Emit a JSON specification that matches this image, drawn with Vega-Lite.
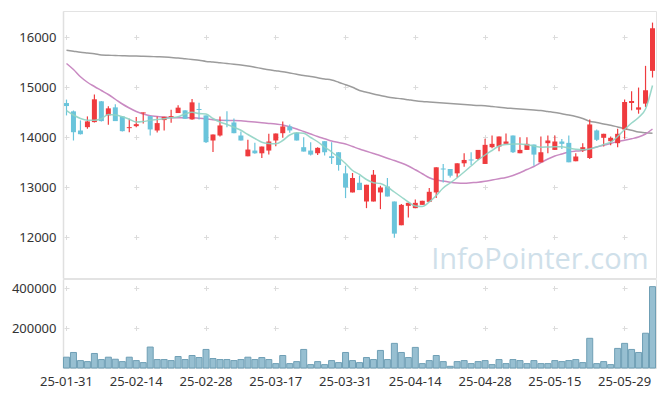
{
"$schema": "https://vega.github.io/schema/vega-lite/v6.json",
"background": "white",
"padding": {"left": 0, "top": 10, "right": 10, "bottom": 5},
"spacing": -2,
"config": {"view": {"stroke": "#e3e3e3"}, "font": "Noto Sans"},
"datasets": {"k": [
{"d":"25-01-31","o":14679,"h":14748,"l":14432,"c":14619,"v":54000,"ma5":14530,"ma20":15470,"ma60":15735},
{"d":"25-02-03","o":14513,"h":14530,"l":13930,"c":14096,"v":77600,"ma5":14440,"ma20":15350,"ma60":15715},
{"d":"25-02-04","o":14130,"h":14332,"l":14050,"c":14056,"v":37100,"ma5":14370,"ma20":15205,"ma60":15695},
{"d":"25-02-05","o":14197,"h":14412,"l":14165,"c":14312,"v":32000,"ma5":14335,"ma20":15095,"ma60":15680},
{"d":"25-02-06","o":14298,"h":14848,"l":14290,"c":14754,"v":72600,"ma5":14335,"ma20":15010,"ma60":15665},
{"d":"25-02-07","o":14714,"h":14720,"l":14310,"c":14318,"v":42200,"ma5":14365,"ma20":14930,"ma60":15640},
{"d":"25-02-10","o":14432,"h":14613,"l":14246,"c":14573,"v":54000,"ma5":14450,"ma20":14850,"ma60":15635},
{"d":"25-02-11","o":14593,"h":14653,"l":14318,"c":14318,"v":43900,"ma5":14440,"ma20":14755,"ma60":15630},
{"d":"25-02-12","o":14412,"h":14420,"l":14110,"c":14117,"v":32000,"ma5":14405,"ma20":14660,"ma60":15625},
{"d":"25-02-13","o":14177,"h":14365,"l":14096,"c":14197,"v":54000,"ma5":14355,"ma20":14580,"ma60":15620},
{"d":"25-02-14","o":14217,"h":14398,"l":14197,"c":14257,"v":37100,"ma5":14300,"ma20":14510,"ma60":15618},
{"d":"25-02-17","o":14472,"h":14492,"l":14270,"c":14492,"v":27000,"ma5":14310,"ma20":14460,"ma60":15615},
{"d":"25-02-18","o":14418,"h":14418,"l":14030,"c":14151,"v":104700,"ma5":14333,"ma20":14425,"ma60":15610},
{"d":"25-02-19","o":14130,"h":14412,"l":14090,"c":14278,"v":42200,"ma5":14350,"ma20":14410,"ma60":15605},
{"d":"25-02-20","o":14338,"h":14405,"l":14130,"c":14405,"v":42200,"ma5":14367,"ma20":14395,"ma60":15600},
{"d":"25-02-21","o":14398,"h":14546,"l":14285,"c":14418,"v":37100,"ma5":14385,"ma20":14386,"ma60":15590},
{"d":"25-02-24","o":14479,"h":14633,"l":14479,"c":14587,"v":57400,"ma5":14405,"ma20":14386,"ma60":15580},
{"d":"25-02-25","o":14533,"h":14533,"l":14365,"c":14365,"v":42200,"ma5":14460,"ma20":14386,"ma60":15565},
{"d":"25-02-26","o":14352,"h":14761,"l":14345,"c":14693,"v":62500,"ma5":14495,"ma20":14386,"ma60":15550},
{"d":"25-02-27","o":14560,"h":14687,"l":14352,"c":14540,"v":52300,"ma5":14470,"ma20":14375,"ma60":15535},
{"d":"25-02-28","o":14432,"h":14432,"l":13880,"c":13896,"v":92800,"ma5":14460,"ma20":14362,"ma60":15512},
{"d":"25-03-04","o":13930,"h":14050,"l":13700,"c":14050,"v":47300,"ma5":14370,"ma20":14345,"ma60":15500},
{"d":"25-03-05","o":14030,"h":14412,"l":14010,"c":14231,"v":42200,"ma5":14300,"ma20":14335,"ma60":15485},
{"d":"25-03-06","o":14342,"h":14513,"l":14197,"c":14322,"v":42200,"ma5":14250,"ma20":14332,"ma60":15470},
{"d":"25-03-07","o":14291,"h":14372,"l":14076,"c":14076,"v":37100,"ma5":14195,"ma20":14332,"ma60":15455},
{"d":"25-03-10","o":14030,"h":14111,"l":13930,"c":13930,"v":42200,"ma5":14135,"ma20":14325,"ma60":15440},
{"d":"25-03-11","o":13614,"h":13944,"l":13614,"c":13749,"v":54000,"ma5":14050,"ma20":14312,"ma60":15420},
{"d":"25-03-12","o":13729,"h":13883,"l":13663,"c":13674,"v":42200,"ma5":13970,"ma20":14298,"ma60":15395},
{"d":"25-03-13","o":13674,"h":13809,"l":13582,"c":13809,"v":52300,"ma5":13895,"ma20":14285,"ma60":15370},
{"d":"25-03-14","o":13729,"h":14064,"l":13648,"c":13910,"v":42200,"ma5":13870,"ma20":14272,"ma60":15345},
{"d":"25-03-17","o":13930,"h":14070,"l":13815,"c":14070,"v":21900,"ma5":13863,"ma20":14258,"ma60":15325},
{"d":"25-03-18","o":14076,"h":14312,"l":13984,"c":14211,"v":62500,"ma5":13930,"ma20":14240,"ma60":15305},
{"d":"25-03-19","o":14211,"h":14251,"l":14084,"c":14131,"v":21900,"ma5":14040,"ma20":14205,"ma60":15280},
{"d":"25-03-20","o":14084,"h":14090,"l":13930,"c":13930,"v":32000,"ma5":14085,"ma20":14160,"ma60":15255},
{"d":"25-03-21","o":13796,"h":13997,"l":13709,"c":13709,"v":92800,"ma5":14075,"ma20":14110,"ma60":15230},
{"d":"25-03-24","o":13729,"h":13896,"l":13628,"c":13648,"v":16900,"ma5":13990,"ma20":14060,"ma60":15210},
{"d":"25-03-25","o":13675,"h":13796,"l":13642,"c":13783,"v":32000,"ma5":13905,"ma20":14010,"ma60":15185},
{"d":"25-03-26","o":13916,"h":13916,"l":13628,"c":13695,"v":16900,"ma5":13800,"ma20":13965,"ma60":15160},
{"d":"25-03-27","o":13614,"h":13896,"l":13461,"c":13581,"v":37100,"ma5":13700,"ma20":13920,"ma60":15140},
{"d":"25-03-28","o":13695,"h":13700,"l":13327,"c":13441,"v":27000,"ma5":13590,"ma20":13890,"ma60":15095},
{"d":"25-03-31","o":13273,"h":13427,"l":12778,"c":12991,"v":77600,"ma5":13470,"ma20":13860,"ma60":15045},
{"d":"25-04-01","o":12891,"h":13280,"l":12891,"c":13180,"v":37100,"ma5":13330,"ma20":13810,"ma60":14995},
{"d":"25-04-02","o":13085,"h":13226,"l":12939,"c":12939,"v":27000,"ma5":13250,"ma20":13760,"ma60":14930},
{"d":"25-04-03","o":12710,"h":13045,"l":12577,"c":13045,"v":52300,"ma5":13150,"ma20":13715,"ma60":14895},
{"d":"25-04-04","o":12710,"h":13340,"l":12710,"c":13246,"v":42200,"ma5":13085,"ma20":13670,"ma60":14860},
{"d":"25-04-07","o":12891,"h":13025,"l":12557,"c":12991,"v":87800,"ma5":13070,"ma20":13625,"ma60":14830},
{"d":"25-04-08","o":13011,"h":13180,"l":12810,"c":12810,"v":42200,"ma5":13000,"ma20":13575,"ma60":14800},
{"d":"25-04-09","o":12710,"h":12710,"l":11987,"c":12067,"v":123200,"ma5":12900,"ma20":13530,"ma60":14780},
{"d":"25-04-10","o":12235,"h":12660,"l":12235,"c":12643,"v":77600,"ma5":12800,"ma20":13480,"ma60":14765},
{"d":"25-04-11","o":12623,"h":12683,"l":12388,"c":12683,"v":52300,"ma5":12700,"ma20":13420,"ma60":14745},
{"d":"25-04-14","o":12577,"h":12750,"l":12577,"c":12683,"v":103000,"ma5":12620,"ma20":13345,"ma60":14725},
{"d":"25-04-15","o":12643,"h":12724,"l":12643,"c":12724,"v":21900,"ma5":12610,"ma20":13265,"ma60":14710},
{"d":"25-04-16","o":12703,"h":12979,"l":12703,"c":12904,"v":37100,"ma5":12700,"ma20":13185,"ma60":14700},
{"d":"25-04-17","o":12891,"h":13394,"l":12778,"c":13394,"v":62500,"ma5":12830,"ma20":13140,"ma60":14690},
{"d":"25-04-18","o":13370,"h":13461,"l":13092,"c":13350,"v":32000,"ma5":12980,"ma20":13120,"ma60":14680},
{"d":"25-04-21","o":13360,"h":13360,"l":13190,"c":13226,"v":8400,"ma5":13080,"ma20":13095,"ma60":14670},
{"d":"25-04-22","o":13273,"h":13474,"l":13192,"c":13474,"v":32000,"ma5":13185,"ma20":13080,"ma60":14660},
{"d":"25-04-23","o":13474,"h":13675,"l":13407,"c":13541,"v":37100,"ma5":13300,"ma20":13075,"ma60":14650},
{"d":"25-04-24","o":13550,"h":13696,"l":13440,"c":13530,"v":21900,"ma5":13420,"ma20":13085,"ma60":14640},
{"d":"25-04-25","o":13561,"h":13742,"l":13540,"c":13742,"v":32000,"ma5":13540,"ma20":13095,"ma60":14630},
{"d":"25-04-28","o":13461,"h":13964,"l":13461,"c":13843,"v":37100,"ma5":13640,"ma20":13115,"ma60":14625},
{"d":"25-04-29","o":13796,"h":14030,"l":13776,"c":13863,"v":16900,"ma5":13730,"ma20":13140,"ma60":14610},
{"d":"25-04-30","o":13809,"h":14010,"l":13715,"c":14010,"v":42200,"ma5":13820,"ma20":13165,"ma60":14595},
{"d":"25-05-02","o":13863,"h":14070,"l":13863,"c":13910,"v":21900,"ma5":13852,"ma20":13190,"ma60":14580},
{"d":"25-05-07","o":14030,"h":14030,"l":13680,"c":13695,"v":42200,"ma5":13858,"ma20":13230,"ma60":14570},
{"d":"25-05-08","o":13675,"h":13997,"l":13675,"c":13742,"v":37100,"ma5":13862,"ma20":13285,"ma60":14560},
{"d":"25-05-09","o":13742,"h":13997,"l":13742,"c":13863,"v":21900,"ma5":13845,"ma20":13350,"ma60":14550},
{"d":"25-05-12","o":13849,"h":13849,"l":13427,"c":13648,"v":37100,"ma5":13820,"ma20":13410,"ma60":14540},
{"d":"25-05-13","o":13494,"h":14010,"l":13494,"c":13695,"v":21900,"ma5":13795,"ma20":13490,"ma60":14530},
{"d":"25-05-14","o":13876,"h":14030,"l":13675,"c":13930,"v":21900,"ma5":13800,"ma20":13560,"ma60":14510},
{"d":"25-05-15","o":13742,"h":14030,"l":13742,"c":13910,"v":37100,"ma5":13805,"ma20":13620,"ma60":14490},
{"d":"25-05-16","o":13910,"h":13960,"l":13760,"c":13863,"v":32000,"ma5":13805,"ma20":13660,"ma60":14465},
{"d":"25-05-19","o":13883,"h":14030,"l":13494,"c":13494,"v":37100,"ma5":13780,"ma20":13700,"ma60":14440},
{"d":"25-05-20","o":13514,"h":13675,"l":13514,"c":13608,"v":42200,"ma5":13755,"ma20":13718,"ma60":14410},
{"d":"25-05-21","o":13729,"h":13876,"l":13700,"c":13796,"v":27000,"ma5":13745,"ma20":13730,"ma60":14370},
{"d":"25-05-22","o":13580,"h":14352,"l":13560,"c":14251,"v":148500,"ma5":13760,"ma20":13765,"ma60":14315},
{"d":"25-05-23","o":14131,"h":14150,"l":13920,"c":13944,"v":21900,"ma5":13800,"ma20":13800,"ma60":14290},
{"d":"25-05-26","o":13984,"h":14064,"l":13809,"c":14064,"v":32000,"ma5":13850,"ma20":13835,"ma60":14260},
{"d":"25-05-27","o":13916,"h":14010,"l":13836,"c":13984,"v":16900,"ma5":13895,"ma20":13870,"ma60":14235},
{"d":"25-05-28","o":13876,"h":14165,"l":13796,"c":14064,"v":97900,"ma5":14010,"ma20":13910,"ma60":14200},
{"d":"25-05-29","o":14151,"h":14748,"l":13964,"c":14700,"v":123200,"ma5":14150,"ma20":13935,"ma60":14165},
{"d":"25-05-30","o":14680,"h":14915,"l":14533,"c":14720,"v":92800,"ma5":14280,"ma20":13965,"ma60":14135},
{"d":"25-06-02","o":14547,"h":14989,"l":14466,"c":14593,"v":77600,"ma5":14390,"ma20":14000,"ma60":14100},
{"d":"25-06-04","o":14667,"h":15423,"l":14600,"c":14935,"v":173900,"ma5":14560,"ma20":14060,"ma60":14085},
{"d":"25-06-05","o":15323,"h":16288,"l":15190,"c":16175,"v":406800,"ma5":15030,"ma20":14160,"ma60":14077}
]},
"vconcat": [
{
"width": 593, "height": 267,
"data": {"name": "k"},
"encoding": {
  "x": {"field": "d", "type": "ordinal", "scale": {"type": "band", "paddingInner": 0, "paddingOuter": 0},
    "axis": {"values": ["25-01-31","25-02-14","25-02-28","25-03-17","25-03-31","25-04-14","25-04-28","25-05-15","25-05-29"], "labels": false, "ticks": false, "domain": false, "title": null, "grid": true, "gridColor": "#dcdcdc", "gridDash": [5, 45], "gridDashOffset": 26.5, "minExtent": 0, "maxExtent": 0}}
},
"layer": [
  {"mark": {"type": "line", "color": "#9c9c9c", "strokeWidth": 1.5, "interpolate": "monotone"},
   "encoding": {"y": {"field": "ma60", "type": "quantitative", "scale": {"domain": [11180, 16520], "nice": false, "zero": false},
     "axis": {"values": [12000, 13000, 14000, 15000, 16000], "format": "d", "title": null, "ticks": false, "grid": true, "gridColor": "#dcdcdc", "gridDash": [5, 64.76], "gridDashOffset": 68.76, "domainColor": "#e0e0e0", "domainWidth": 1.5, "labelPadding": 7, "minExtent": 62, "maxExtent": 62, "labelFontSize": 13, "labelColor": "#333", "labelFont": "Noto Sans"}}}},
  {"mark": {"type": "line", "color": "#c98ac2", "strokeWidth": 1.5, "interpolate": "monotone"},
   "encoding": {"y": {"field": "ma20", "type": "quantitative"}}},
  {"mark": {"type": "rule", "strokeWidth": 1.2},
   "encoding": {"y": {"field": "l", "type": "quantitative"}, "y2": {"field": "h"},
     "color": {"condition": {"test": "datum.c >= datum.o", "value": "#ef3b3e"}, "value": "#6ac4db"}}},
  {"mark": {"type": "bar", "size": 5},
   "encoding": {"y": {"field": "o", "type": "quantitative"}, "y2": {"field": "c"},
     "color": {"condition": {"test": "datum.c >= datum.o", "value": "#ef3b3e"}, "value": "#6ac4db"}}},
  {"mark": {"type": "line", "color": "#8fd3c3", "strokeWidth": 1.5, "opacity": 0.9, "interpolate": "monotone"},
   "encoding": {"y": {"field": "ma5", "type": "quantitative"}}},
  {"data": {"values": [{"t": "InfoPointer.com"}]},
   "mark": {"type": "text", "align": "right", "baseline": "alphabetic", "font": "Open Sans", "fontSize": 29, "color": "#cfe0ea", "dx": -4},
   "encoding": {"x": {"datum": "25-06-05"}, "y": {"datum": 11370}, "text": {"field": "t"}}}
]
},
{
"width": 593, "height": 89,
"data": {"name": "k"},
"mark": {"type": "bar", "size": 6, "fill": "#97bfd1", "stroke": "#6f9fb5", "strokeWidth": 1},
"encoding": {
  "x": {"field": "d", "type": "ordinal", "scale": {"type": "band", "paddingInner": 0, "paddingOuter": 0},
    "axis": {"values": ["25-01-31","25-02-14","25-02-28","25-03-17","25-03-31","25-04-14","25-04-28","25-05-15","25-05-29"], "labelAngle": 0, "title": null, "ticks": false, "domain": false, "grid": true, "gridColor": "#dcdcdc", "gridDash": [5, 35], "gridDashOffset": 33.5, "labelPadding": 7, "labelFontSize": 13, "labelColor": "#333", "labelFont": "Noto Sans"}},
  "y": {"field": "v", "type": "quantitative", "scale": {"domain": [0, 445000], "nice": false},
    "axis": {"values": [200000, 400000], "format": "d", "title": null, "ticks": false, "grid": true, "gridColor": "#dcdcdc", "gridDash": [5, 64.76], "gridDashOffset": 68.76, "domainColor": "#e0e0e0", "domainWidth": 1.5, "labelPadding": 7, "minExtent": 62, "maxExtent": 62, "labelFontSize": 13, "labelColor": "#333", "labelFont": "Noto Sans"}}
}
}
]
}
